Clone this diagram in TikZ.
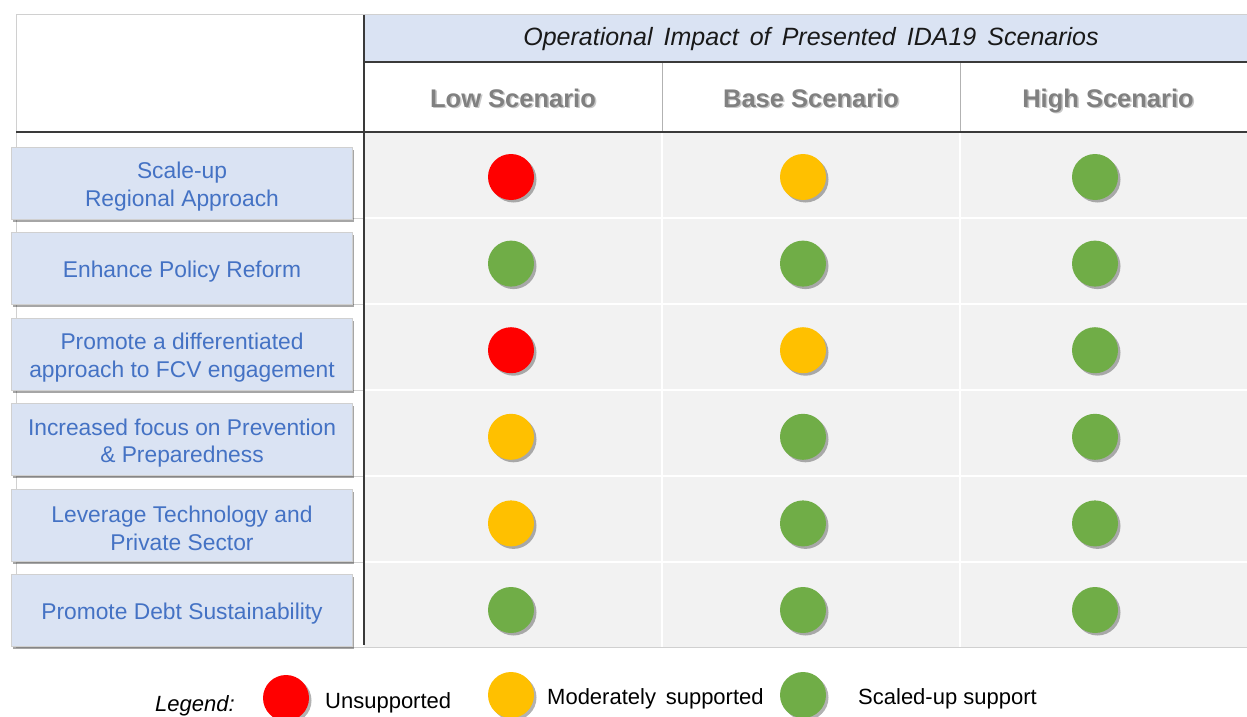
\documentclass[tikz,border=0pt]{standalone}
\usepackage{fontspec}
\setmainfont{Liberation Sans}
\usetikzlibrary{shadows}
\definecolor{hdrblue}{HTML}{DAE3F3}
\definecolor{txtblue}{HTML}{4472C4}
\definecolor{cellgray}{HTML}{F2F2F2}
\definecolor{cred}{HTML}{FF0000}
\definecolor{cyel}{HTML}{FFC000}
\definecolor{cgrn}{HTML}{70AD47}
\definecolor{scen}{HTML}{808080}
\definecolor{rulegray}{HTML}{D0D0D0}
\definecolor{darkrule}{HTML}{3A3A3A}
\newcommand{\lowerlbl}[1]{\raisebox{-3.5pt}[\height][\depth]{#1}}
\begin{document}
\begin{tikzpicture}[x=1pt,y=-1pt,
  dot/.style={circle, minimum size=46pt, inner sep=0pt, draw=none,
    drop shadow={shadow xshift=2.5pt, shadow yshift=-2.5pt, opacity=0.3, fill=black}},
  lbl/.style={rectangle, minimum width=341pt, minimum height=72pt, fill=hdrblue,
    draw=rulegray, line width=0.6pt, text=txtblue, align=center, inner sep=0pt,
    font=\fontsize{22.8}{27.5}\selectfont,
    drop shadow={shadow xshift=1.5pt, shadow yshift=-2.5pt, opacity=0.35, fill=black}},
  scentxt/.style={anchor=base, font=\fontsize{25.5}{30}\selectfont\bfseries, text=scen, inner sep=0pt},
  scenshadow/.style={anchor=base, font=\fontsize{25.5}{30}\selectfont\bfseries, text=black!22, inner sep=0pt},
  legtxt/.style={anchor=base west, font=\fontsize{22}{26}\selectfont, inner sep=0pt},
  thinrule/.style={draw=rulegray, line width=1pt},
  sep/.style={draw=white, line width=1.5pt},
  strong/.style={draw=darkrule, line width=1.3pt}
]
\useasboundingbox (0,0) rectangle (1247,717);
% backgrounds
\fill[white] (16,15) rectangle (364,132);
\fill[hdrblue] (364,15) rectangle (1247,62);
\fill[white] (364,62) rectangle (1247,132);
\fill[cellgray] (364,132) rectangle (1247,647);
% body separators
\foreach \yy in {218,304,390,476,562} {
  \draw[sep] (364,\yy) -- (1247,\yy);
  \draw[thinrule] (16,\yy) -- (364,\yy);
}
\draw[sep] (662,132) -- (662,647);
\draw[sep] (960,132) -- (960,647);
% header separators
\draw[draw=black!30, line width=1pt] (662,62) -- (662,132);
\draw[draw=black!30, line width=1pt] (960,62) -- (960,132);
% borders
\draw[thinrule] (16,15) -- (1247,15);
\draw[thinrule] (16,15) -- (16,647);
\draw[thinrule] (16,647) -- (1247,647);
\draw[strong] (364,15) -- (364,645);
\draw[strong] (364,62) -- (1247,62);
\draw[strong] (16,132) -- (1247,132);
% title
\node[anchor=base, inner sep=0pt, font=\fontsize{25}{29}\selectfont\itshape, text=black!90] (title) at (811,46)
  {Operational\ \,Impact\ \,of\ \,Presented\ \,IDA19\ \,Scenarios};
% scenario headers
\node[scenshadow] (lowsh) at (514.5,108.5) {Low Scenario};
\node[scentxt] (low) at (513,107) {Low Scenario};
\node[scenshadow] (basesh) at (812.5,108.5) {Base Scenario};
\node[scentxt] (base) at (811,107) {Base Scenario};
\node[scenshadow] (highsh) at (1109.5,108.5) {High Scenario};
\node[scentxt] (high) at (1108,107) {High Scenario};
% row labels
\node[lbl] (lab1) at (182,183) {\lowerlbl{\parbox{330pt}{\centering Scale-up\\Regional Approach}}};
\node[lbl] (lab2) at (182,268.5) {\lowerlbl{Enhance Policy Reform}};
\node[lbl] (lab3) at (182,354) {\lowerlbl{\parbox{330pt}{\centering Promote a differentiated\\approach to FCV engagement}}};
\node[lbl] (lab4) at (182,439.5) {\lowerlbl{\parbox{330pt}{\centering Increased focus on Prevention\\\& Preparedness}}};
\node[lbl] (lab5) at (182,525) {\lowerlbl{\parbox{330pt}{\centering Leverage Technology and\\Private Sector}}};
\node[lbl] (lab6) at (182,610.5) {\lowerlbl{Promote Debt Sustainability}};
% dots
\node[dot, fill=cred] (d11) at (511,177) {};
\node[dot, fill=cyel] (d12) at (803,177) {};
\node[dot, fill=cgrn] (d13) at (1095,177) {};
\node[dot, fill=cgrn] (d21) at (511,263.6) {};
\node[dot, fill=cgrn] (d22) at (803,263.6) {};
\node[dot, fill=cgrn] (d23) at (1095,263.6) {};
\node[dot, fill=cred] (d31) at (511,350.2) {};
\node[dot, fill=cyel] (d32) at (803,350.2) {};
\node[dot, fill=cgrn] (d33) at (1095,350.2) {};
\node[dot, fill=cyel] (d41) at (511,436.8) {};
\node[dot, fill=cgrn] (d42) at (803,436.8) {};
\node[dot, fill=cgrn] (d43) at (1095,436.8) {};
\node[dot, fill=cyel] (d51) at (511,523.4) {};
\node[dot, fill=cgrn] (d52) at (803,523.4) {};
\node[dot, fill=cgrn] (d53) at (1095,523.4) {};
\node[dot, fill=cgrn] (d61) at (511,610) {};
\node[dot, fill=cgrn] (d62) at (803,610) {};
\node[dot, fill=cgrn] (d63) at (1095,610) {};
% legend
\node[anchor=base, inner sep=0pt, font=\fontsize{22}{26}\selectfont\itshape] (leg) at (195,711) {Legend:};
\node[dot, fill=cred] (legred) at (286,698) {};
\node[legtxt] (legu) at (325,708) {Unsupported};
\node[dot, fill=cyel] (legyel) at (511,695) {};
\node[legtxt] (legm) at (547,704) {Moderately\ \,supported};
\node[dot, fill=cgrn] (leggrn) at (803,695) {};
\node[legtxt] (legs) at (858,704) {Scaled-up support};
\end{tikzpicture}
\end{document}
